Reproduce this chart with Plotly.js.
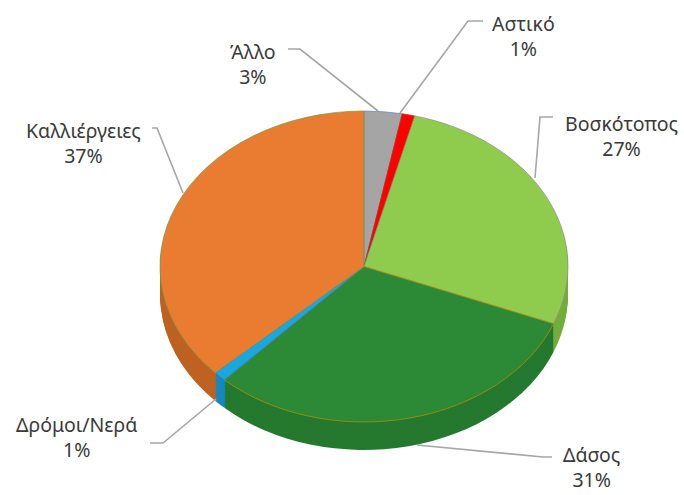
<!DOCTYPE html>
<html><head><meta charset="utf-8">
<script src="https://cdn.plot.ly/plotly-3.0.1.min.js"></script>
<style>html,body{margin:0;padding:0;background:#fff}#chart{width:684px;height:495px}</style>
</head><body><div id="chart"></div>
<script>
// ---- data ----
const categories = ['Άλλο', 'Αστικό', 'Βοσκότοπος', 'Δάσος', 'Δρόμοι/Νερά', 'Καλλιέργειες'];
const percents = [3, 1, 27, 31, 1, 37];
const topColors = ['#A5A5A5', '#FF0000', '#8FCC4E', '#2C8A37', '#19A7E2', '#E97C30'];
const sideColors = ['#878787', '#C80000', '#74AD3C', '#25792F', '#1389BF', '#BE6222'];
const edgeColors = ['#5B7FC4', '#B03A10', '#8A8A8A', '#BF9000', '#4472C4', '#6B9F45'];

// ---- geometry (pixels) ----
const W = 684, H = 495;
const cx = 364, rx = 204, cyScreen = 266.5, ry = 155.5, depth = 28;
const s = ry / rx;
const Y0 = H / 2;                 // pie centre before squash
const T = cyScreen - s * Y0;      // translate after squash
const dPre = depth / s;           // depth before squash
const nLayers = 16;

function pieTrace(colors, offPx, line) {
  return {
    type: 'pie', values: percents, labels: categories,
    sort: false, direction: 'clockwise', rotation: 0,
    textinfo: 'none', hoverinfo: 'skip', showlegend: false,
    marker: { colors: colors, line: line },
    domain: {
      x: [(cx - rx) / W, (cx + rx) / W],
      y: [0.5 - rx / H - offPx / H, 0.5 + rx / H - offPx / H]
    }
  };
}

const traces = [];
for (let k = nLayers; k >= 1; k--) {
  traces.push(pieTrace(sideColors, dPre * k / nLayers, { width: 0 }));
}
traces.push(pieTrace(topColors, 0, { width: 0.8, color: edgeColors }));

// ---- labels & leader lines ----
const px = x => x / W, py = y => 1 - y / H;
const labelPos = [
  [253, 64],
  [523, 36],
  [621, 136],
  [591, 467],
  [76, 437],
  [83, 143]
];
const leaderPaths = [
  [[288, 49], [300, 49], [378, 111]],
  [[483, 21], [468, 21], [400, 113]],
  [[553, 117], [540, 117], [535, 178]],
  [[417, 445], [543, 457], [552, 457]],
  [[150, 443], [163, 443], [216, 399]],
  [[152, 128], [157, 128], [183, 193]]
];
const font = { family: 'Noto Sans, Open Sans, sans-serif', size: 19.5, color: '#3A3A3A' };
const annotations = categories.map((c, i) => ({
  text: c + '<br>' + percents[i] + '%',
  x: px(labelPos[i][0]), y: py(labelPos[i][1]), xref: 'paper', yref: 'paper',
  xanchor: 'center', yanchor: 'middle', align: 'center', showarrow: false,
  borderpad: 0, font: font
}));
const shapes = leaderPaths.map(pts => ({
  type: 'path', xref: 'paper', yref: 'paper',
  path: pts.map((q, j) => (j ? 'L' : 'M') + px(q[0]) + ',' + py(q[1])).join(' '),
  line: { color: '#A6A6A6', width: 1.6 }
}));

const layout = {
  width: W, height: H, margin: { l: 0, r: 0, t: 0, b: 0 },
  paper_bgcolor: '#ffffff', plot_bgcolor: '#ffffff',
  showlegend: false, annotations: annotations, shapes: shapes
};

Plotly.newPlot('chart', traces, layout, { staticPlot: true, displayModeBar: false }).then(() => {
  const g = document.querySelector('#chart .pielayer');
  if (g) g.setAttribute('transform', 'translate(0,' + T + ') scale(1,' + s + ')');
});
</script>
</body></html>
